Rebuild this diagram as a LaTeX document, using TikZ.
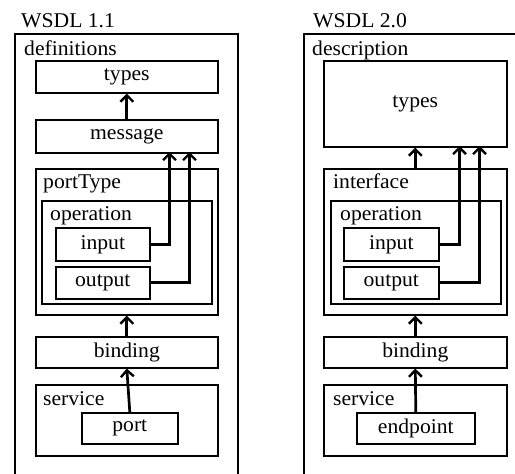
\documentclass[tikz,border=0pt]{standalone}
\usepackage{fontspec}
\setmainfont[FakeStretch=1.03]{Liberation Serif}
\usetikzlibrary{arrows.meta}
\begin{document}
\begin{tikzpicture}[x=1pt,y=-1pt,
  box/.style={draw, line width=1.6pt, inner sep=0pt, anchor=north west},
  lbl/.style={inner sep=0pt, anchor=base west},
  arr/.style={line width=2.7pt, -{Straight Barb[length=6.5pt,width=13pt,line width=2.4pt]}},
  every node/.style={font=\fontsize{21}{24}\selectfont}]
\useasboundingbox (0,0) rectangle (515,474);
\clip (0,0) rectangle (515,474);
\fill[white] (0,0) rectangle (515,474);
% ---------- WSDL 1.1 ----------
\node[lbl] (t1) at (21,27.5) {WSDL 1.1};
\node[box, minimum width=223pt, minimum height=445pt] (def) at (14,33) {};
\node[lbl] (defl) at (24,55) {definitions};
\node[box, minimum width=182pt, minimum height=32pt] (types1) at (35,60) {types};
\node[box, minimum width=182pt, minimum height=33pt] (message1) at (35,119) {message};
\node[box, minimum width=182pt, minimum height=146pt] (portType1) at (35,168) {};
\node[lbl] (ptl) at (43,188) {portType};
\node[box, minimum width=170pt, minimum height=103pt] (op1) at (41,200) {};
\node[lbl] (opl1) at (50,220) {operation};
\node[box, minimum width=94pt, minimum height=33pt] (input1) at (55,227) {input};
\node[box, minimum width=94pt, minimum height=32pt] (output1) at (55,266) {output};
\node[box, minimum width=182pt, minimum height=31pt] (binding1) at (35,336) {binding};
\node[box, minimum width=182pt, minimum height=71pt] (service1) at (35,384) {};
\node[lbl] (svl1) at (43,405) {service};
\node[box, minimum width=96pt, minimum height=31pt] (port1) at (81,412) {port};
\coordinate (m1a) at (169.5,152);
\coordinate (m1b) at (189.5,152);
\draw[arr] (message1.north) -- (types1.south);
\draw[arr] (input1.east) -| (m1a);
\draw[arr] (output1.east) -| (m1b);
\draw[arr] (binding1.north) -- (portType1.south);
\draw[arr] (port1.north) -- (binding1.south);
% ---------- WSDL 2.0 ----------
\node[lbl] (t2) at (313,27.5) {WSDL 2.0};
\node[box, minimum width=240pt, minimum height=445pt] (desc) at (303,33) {};
\node[lbl] (descl) at (312,55) {description};
\node[box, minimum width=183pt, minimum height=86pt] (types2) at (323,60) {types};
\node[box, minimum width=183pt, minimum height=146pt] (interface2) at (323,168) {};
\node[lbl] (ifl) at (333,188) {interface};
\node[box, minimum width=170pt, minimum height=103pt] (op2) at (330,200) {};
\node[lbl] (opl2) at (340,220) {operation};
\node[box, minimum width=95pt, minimum height=33pt] (input2) at (343,227) {input};
\node[box, minimum width=95pt, minimum height=32pt] (output2) at (343,266) {output};
\node[box, minimum width=183pt, minimum height=31pt] (binding2) at (323,336) {binding};
\node[box, minimum width=183pt, minimum height=71pt] (service2) at (323,384) {};
\node[lbl] (svl2) at (333,405) {service};
\node[box, minimum width=118pt, minimum height=31pt] (endpoint2) at (356,412) {endpoint};
\coordinate (m2a) at (459.5,146);
\coordinate (m2b) at (479.5,146);
\draw[arr] (interface2.north) -- (types2.south);
\draw[arr] (input2.east) -| (m2a);
\draw[arr] (output2.east) -| (m2b);
\draw[arr] (binding2.north) -- (interface2.south);
\draw[arr] (endpoint2.north) -- (binding2.south);
\end{tikzpicture}
\end{document}
